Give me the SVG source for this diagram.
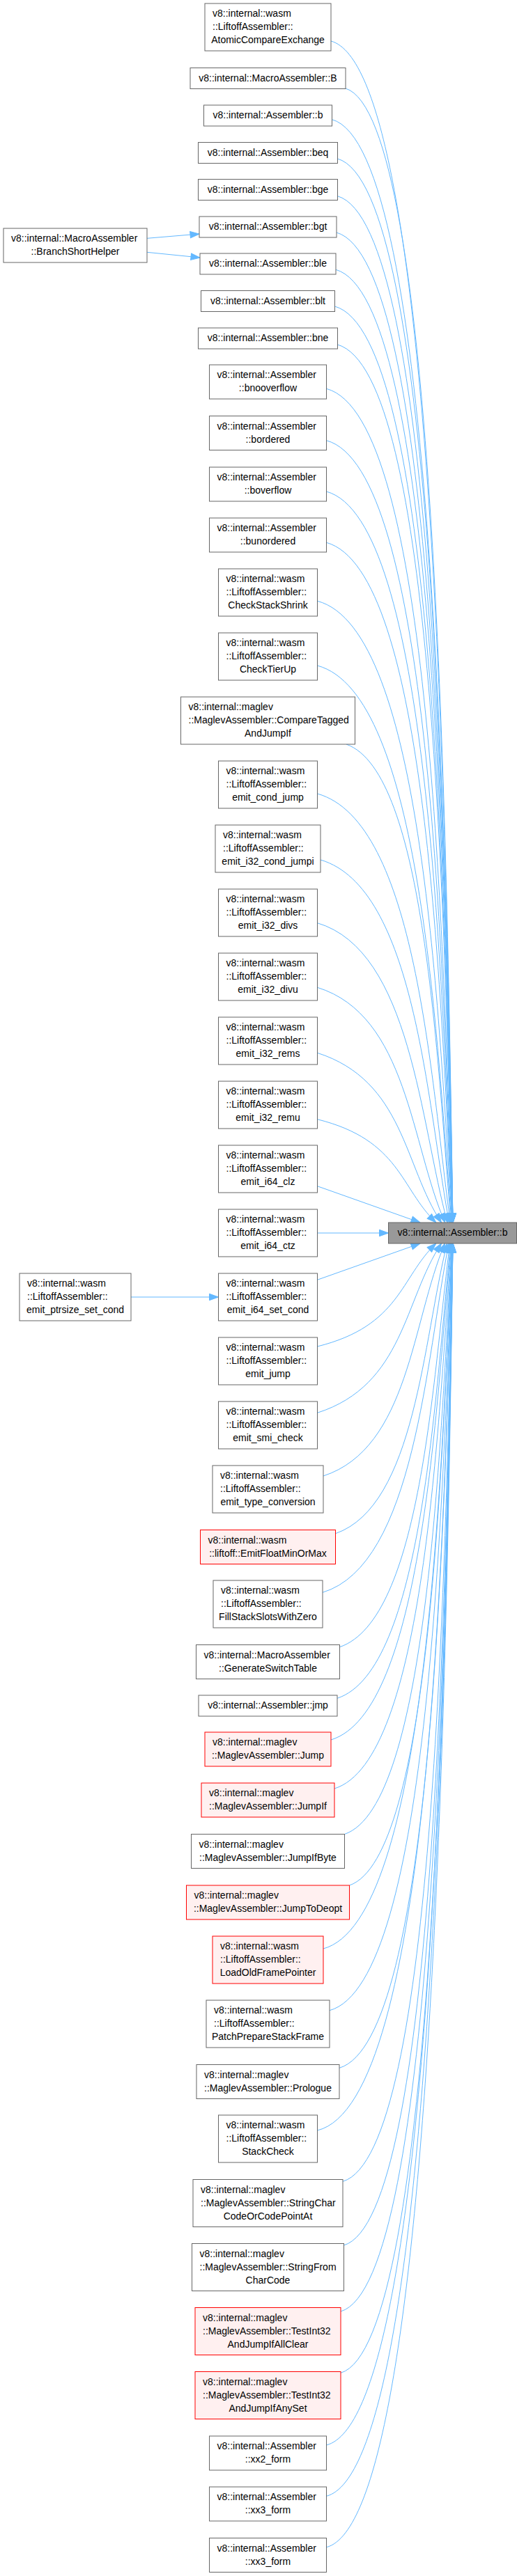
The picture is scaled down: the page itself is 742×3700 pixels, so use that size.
<svg xmlns="http://www.w3.org/2000/svg" width="742" height="3700" viewBox="0 0 742 3700">
<style>
text{font-family:"Liberation Sans",Arial,Helvetica,sans-serif;font-size:14px;fill:#000}
.c{text-anchor:middle}
.n rect{fill:#fff;stroke:#666;stroke-width:1}
.r rect{fill:#fff0f0;stroke:#ff0000;stroke-width:1}
.m rect{fill:#999;stroke:#666;stroke-width:1}
#edges path{fill:none;stroke:#63b8ff;stroke-width:1;marker-end:url(#ah)}
</style>
<defs>
<marker id="ah" markerUnits="userSpaceOnUse" markerWidth="14" markerHeight="11" refX="13" refY="5" orient="auto" overflow="visible">
<path d="M0,0.3 L13,5 L0,9.7 z" fill="#63b8ff" stroke="#63b8ff"/>
</marker>
</defs>
<rect width="742" height="3700" fill="#fff"/>
<g id="edges">
<path d="M475,59 C623.8,99 640.7,1196 650,1756"/>
<path d="M496,127 C626.9,167 641.5,1218.4 650,1756"/>
<path d="M476.5,171.7 C624,211.7 640.2,1233.2 650,1756"/>
<path d="M484.5,228 C625.2,268 640.3,1251.8 650,1756"/>
<path d="M484.5,281.7 C625.2,321.7 639.9,1269.5 650,1756"/>
<path d="M483,334 C624.9,374 639.4,1286.7 650,1756"/>
<path d="M482,387.3 C624.8,427.3 639,1304.3 650,1756"/>
<path d="M480.5,440 C624.4,480 638.2,1321.7 649.8,1756"/>
<path d="M484.5,495 C624,535 637.9,1339.9 649.7,1756"/>
<path d="M468.5,558.3 C619.7,598.3 636,1360.8 649.6,1756"/>
<path d="M468.5,632.7 C617.5,672.7 635,1385.3 649.5,1756"/>
<path d="M468.5,706 C615.4,746 633.8,1409.5 649.3,1756"/>
<path d="M468.5,779.3 C613.3,819.3 632.5,1433.7 649.1,1756"/>
<path d="M455.5,863.3 C607.9,903.3 629.3,1461.4 648.8,1756"/>
<path d="M455.5,956 C604.8,996 626.5,1492 648.2,1756"/>
<path d="M497,1069 C610.9,1109 627.5,1529.6 647.2,1756"/>
<path d="M455.5,1140 C598,1180 618.4,1552.7 646.3,1756"/>
<path d="M460,1235 C595.4,1275 612.8,1584.1 644.6,1756"/>
<path d="M455.5,1325.7 C589.7,1365.7 603.1,1614 642.2,1756"/>
<path d="M455.5,1418.3 C584.7,1458.3 589.8,1644.6 638.7,1756"/>
<path d="M455.5,1512.3 C580,1552.3 580,1675.6 633.5,1756"/>
<path d="M455.5,1607.7 C574.6,1637.4 574.6,1707.1 625.8,1756"/>
<path d="M455.5,1703.7 L603,1756"/>
<path d="M455.5,1771 L557.5,1771"/>
<path d="M455.5,1838.3 L603,1786"/>
<path d="M455.5,1934 C574.6,1904.4 574.6,1834.8 625.8,1786"/>
<path d="M455.5,2029.3 C580,1989.3 580,1866.3 633.5,1786"/>
<path d="M464,2120 C586.9,2080 591.4,1896.2 638.5,1786"/>
<path d="M481.5,2202.7 C596.4,2162.7 607.1,1923.5 641.7,1786"/>
<path d="M463,2287.3 C595.2,2247.3 611.6,1951.4 644.1,1786"/>
<path d="M487.5,2365.7 C604.9,2325.7 621.2,1977.3 645.7,1786"/>
<path d="M484,2439.3 C606.5,2399.3 624.3,2001.6 646.8,1786"/>
<path d="M475,2499 C606.4,2459 625.7,2021.3 647.5,1786"/>
<path d="M480,2569 C609.9,2529 628.8,2044.4 648.1,1786"/>
<path d="M494.5,2634.5 C615,2594 632.2,2065.8 648.5,1786"/>
<path d="M501.5,2708 C618.4,2668 634.5,2090.3 648.9,1786"/>
<path d="M464,2799 C613.4,2759 632.7,2120.3 649.2,1786"/>
<path d="M473,2887.7 C617.7,2847.7 635.1,2149.6 649.5,1786"/>
<path d="M487,2970.3 C622.4,2930.3 637.3,2176.8 649.6,1786"/>
<path d="M455.5,3060 C619.7,3020 636,2206.4 649.7,1786"/>
<path d="M492,3133.3 C626.1,3093.3 639.2,2230.6 649.8,1786"/>
<path d="M493.5,3225 C626.5,3185 640.2,2260.9 649.9,1786"/>
<path d="M489,3320 C625.9,3280 640.5,2292.2 650,1786"/>
<path d="M489,3408.3 C625.9,3368.3 641.1,2321.4 650,1786"/>
<path d="M468.5,3512 C622.8,3472 640.5,2355.6 650,1786"/>
<path d="M468.5,3585.3 C622.8,3545.3 640.9,2379.8 650,1786"/>
<path d="M468.5,3658.7 C622.8,3618.7 641.3,2404 650,1786"/>
<path d="M211,342.3 L286,336"/>
<path d="M211,362.3 L287,370"/>
<path d="M188,1863 L313.5,1863"/>
</g>
<g id="main" class="m"><rect x="557.5" y="1756" width="184" height="30"/><text class="c" x="649.5" y="1775">v8::internal::Assembler::b</text></g>
<g id="n_bsh" class="n"><rect x="5" y="328" width="206" height="49"/><text x="16" y="347">v8::internal::MacroAssembler</text><text class="c" x="108" y="366">::BranchShortHelper</text></g>
<g id="n_ptrsize" class="n"><rect x="28" y="1829" width="160" height="68"/><text x="39" y="1848">v8::internal::wasm</text><text x="39" y="1867">::LiftoffAssembler::</text><text class="c" x="108" y="1886">emit_ptrsize_set_cond</text></g>
<g id="n1" class="n"><rect x="294" y="5" width="181" height="68"/><text x="305" y="24">v8::internal::wasm</text><text x="305" y="43">::LiftoffAssembler::</text><text class="c" x="384.5" y="62">AtomicCompareExchange</text></g>
<g id="n2" class="n"><rect x="273" y="97.5" width="223" height="30"/><text class="c" x="384.5" y="116.5">v8::internal::MacroAssembler::B</text></g>
<g id="n3" class="n"><rect x="292.5" y="151" width="184" height="30"/><text class="c" x="384.5" y="170">v8::internal::Assembler::b</text></g>
<g id="n4" class="n"><rect x="284.5" y="204.5" width="200" height="30"/><text class="c" x="384.5" y="223.5">v8::internal::Assembler::beq</text></g>
<g id="n5" class="n"><rect x="284.5" y="257.5" width="200" height="30"/><text class="c" x="384.5" y="276.5">v8::internal::Assembler::bge</text></g>
<g id="n6" class="n"><rect x="286" y="311" width="197" height="30"/><text class="c" x="384.5" y="330">v8::internal::Assembler::bgt</text></g>
<g id="n7" class="n"><rect x="287" y="364" width="195" height="30"/><text class="c" x="384.5" y="383">v8::internal::Assembler::ble</text></g>
<g id="n8" class="n"><rect x="288.5" y="417.5" width="192" height="30"/><text class="c" x="384.5" y="436.5">v8::internal::Assembler::blt</text></g>
<g id="n9" class="n"><rect x="284.5" y="471" width="200" height="30"/><text class="c" x="384.5" y="490">v8::internal::Assembler::bne</text></g>
<g id="n10" class="n"><rect x="300.5" y="524" width="168" height="49"/><text x="311.5" y="543">v8::internal::Assembler</text><text class="c" x="384.5" y="562">::bnooverflow</text></g>
<g id="n11" class="n"><rect x="300.5" y="597.5" width="168" height="49"/><text x="311.5" y="616.5">v8::internal::Assembler</text><text class="c" x="384.5" y="635.5">::bordered</text></g>
<g id="n12" class="n"><rect x="300.5" y="671" width="168" height="49"/><text x="311.5" y="690">v8::internal::Assembler</text><text class="c" x="384.5" y="709">::boverflow</text></g>
<g id="n13" class="n"><rect x="300.5" y="744" width="168" height="49"/><text x="311.5" y="763">v8::internal::Assembler</text><text class="c" x="384.5" y="782">::bunordered</text></g>
<g id="n14" class="n"><rect x="313.5" y="817" width="142" height="68"/><text x="324.5" y="836">v8::internal::wasm</text><text x="324.5" y="855">::LiftoffAssembler::</text><text class="c" x="384.5" y="874">CheckStackShrink</text></g>
<g id="n15" class="n"><rect x="313.5" y="909" width="142" height="68"/><text x="324.5" y="928">v8::internal::wasm</text><text x="324.5" y="947">::LiftoffAssembler::</text><text class="c" x="384.5" y="966">CheckTierUp</text></g>
<g id="n16" class="n"><rect x="259.5" y="1001" width="250" height="68"/><text x="270.5" y="1020">v8::internal::maglev</text><text x="270.5" y="1039">::MaglevAssembler::CompareTagged</text><text class="c" x="384.5" y="1058">AndJumpIf</text></g>
<g id="n17" class="n"><rect x="313.5" y="1093" width="142" height="68"/><text x="324.5" y="1112">v8::internal::wasm</text><text x="324.5" y="1131">::LiftoffAssembler::</text><text class="c" x="384.5" y="1150">emit_cond_jump</text></g>
<g id="n18" class="n"><rect x="309" y="1185" width="151" height="68"/><text x="320" y="1204">v8::internal::wasm</text><text x="320" y="1223">::LiftoffAssembler::</text><text class="c" x="384.5" y="1242">emit_i32_cond_jumpi</text></g>
<g id="n19" class="n"><rect x="313.5" y="1277" width="142" height="68"/><text x="324.5" y="1296">v8::internal::wasm</text><text x="324.5" y="1315">::LiftoffAssembler::</text><text class="c" x="384.5" y="1334">emit_i32_divs</text></g>
<g id="n20" class="n"><rect x="313.5" y="1369" width="142" height="68"/><text x="324.5" y="1388">v8::internal::wasm</text><text x="324.5" y="1407">::LiftoffAssembler::</text><text class="c" x="384.5" y="1426">emit_i32_divu</text></g>
<g id="n21" class="n"><rect x="313.5" y="1461" width="142" height="68"/><text x="324.5" y="1480">v8::internal::wasm</text><text x="324.5" y="1499">::LiftoffAssembler::</text><text class="c" x="384.5" y="1518">emit_i32_rems</text></g>
<g id="n22" class="n"><rect x="313.5" y="1553" width="142" height="68"/><text x="324.5" y="1572">v8::internal::wasm</text><text x="324.5" y="1591">::LiftoffAssembler::</text><text class="c" x="384.5" y="1610">emit_i32_remu</text></g>
<g id="n23" class="n"><rect x="313.5" y="1645" width="142" height="68"/><text x="324.5" y="1664">v8::internal::wasm</text><text x="324.5" y="1683">::LiftoffAssembler::</text><text class="c" x="384.5" y="1702">emit_i64_clz</text></g>
<g id="n24" class="n"><rect x="313.5" y="1737" width="142" height="68"/><text x="324.5" y="1756">v8::internal::wasm</text><text x="324.5" y="1775">::LiftoffAssembler::</text><text class="c" x="384.5" y="1794">emit_i64_ctz</text></g>
<g id="n25" class="n"><rect x="313.5" y="1829" width="142" height="68"/><text x="324.5" y="1848">v8::internal::wasm</text><text x="324.5" y="1867">::LiftoffAssembler::</text><text class="c" x="384.5" y="1886">emit_i64_set_cond</text></g>
<g id="n26" class="n"><rect x="313.5" y="1921" width="142" height="68"/><text x="324.5" y="1940">v8::internal::wasm</text><text x="324.5" y="1959">::LiftoffAssembler::</text><text class="c" x="384.5" y="1978">emit_jump</text></g>
<g id="n27" class="n"><rect x="313.5" y="2013" width="142" height="68"/><text x="324.5" y="2032">v8::internal::wasm</text><text x="324.5" y="2051">::LiftoffAssembler::</text><text class="c" x="384.5" y="2070">emit_smi_check</text></g>
<g id="n28" class="n"><rect x="305" y="2105" width="159" height="68"/><text x="316" y="2124">v8::internal::wasm</text><text x="316" y="2143">::LiftoffAssembler::</text><text class="c" x="384.5" y="2162">emit_type_conversion</text></g>
<g id="n29" class="r"><rect x="287.5" y="2197.5" width="194" height="49"/><text x="298.5" y="2216.5">v8::internal::wasm</text><text class="c" x="384.5" y="2235.5">::liftoff::EmitFloatMinOrMax</text></g>
<g id="n30" class="n"><rect x="306" y="2270" width="157" height="68"/><text x="317" y="2289">v8::internal::wasm</text><text x="317" y="2308">::LiftoffAssembler::</text><text class="c" x="384.5" y="2327">FillStackSlotsWithZero</text></g>
<g id="n31" class="n"><rect x="281.5" y="2362.5" width="206" height="49"/><text x="292.5" y="2381.5">v8::internal::MacroAssembler</text><text class="c" x="384.5" y="2400.5">::GenerateSwitchTable</text></g>
<g id="n32" class="n"><rect x="285" y="2435" width="199" height="30"/><text class="c" x="384.5" y="2454">v8::internal::Assembler::jmp</text></g>
<g id="n33" class="r"><rect x="294" y="2488" width="181" height="49"/><text x="305" y="2507">v8::internal::maglev</text><text class="c" x="384.5" y="2526">::MaglevAssembler::Jump</text></g>
<g id="n34" class="r"><rect x="289" y="2561" width="191" height="49"/><text x="300" y="2580">v8::internal::maglev</text><text class="c" x="384.5" y="2599">::MaglevAssembler::JumpIf</text></g>
<g id="n35" class="n"><rect x="274.5" y="2634.5" width="220" height="49"/><text x="285.5" y="2653.5">v8::internal::maglev</text><text class="c" x="384.5" y="2672.5">::MaglevAssembler::JumpIfByte</text></g>
<g id="n36" class="r"><rect x="267.5" y="2708" width="234" height="49"/><text x="278.5" y="2727">v8::internal::maglev</text><text class="c" x="384.5" y="2746">::MaglevAssembler::JumpToDeopt</text></g>
<g id="n37" class="r"><rect x="305" y="2781" width="159" height="68"/><text x="316" y="2800">v8::internal::wasm</text><text x="316" y="2819">::LiftoffAssembler::</text><text class="c" x="384.5" y="2838">LoadOldFramePointer</text></g>
<g id="n38" class="n"><rect x="296" y="2873" width="177" height="68"/><text x="307" y="2892">v8::internal::wasm</text><text x="307" y="2911">::LiftoffAssembler::</text><text class="c" x="384.5" y="2930">PatchPrepareStackFrame</text></g>
<g id="n39" class="n"><rect x="282" y="2965.5" width="205" height="49"/><text x="293" y="2984.5">v8::internal::maglev</text><text class="c" x="384.5" y="3003.5">::MaglevAssembler::Prologue</text></g>
<g id="n40" class="n"><rect x="313.5" y="3038" width="142" height="68"/><text x="324.5" y="3057">v8::internal::wasm</text><text x="324.5" y="3076">::LiftoffAssembler::</text><text class="c" x="384.5" y="3095">StackCheck</text></g>
<g id="n41" class="n"><rect x="277" y="3130.5" width="215" height="68"/><text x="288" y="3149.5">v8::internal::maglev</text><text x="288" y="3168.5">::MaglevAssembler::StringChar</text><text class="c" x="384.5" y="3187.5">CodeOrCodePointAt</text></g>
<g id="n42" class="n"><rect x="275.5" y="3222.5" width="218" height="68"/><text x="286.5" y="3241.5">v8::internal::maglev</text><text x="286.5" y="3260.5">::MaglevAssembler::StringFrom</text><text class="c" x="384.5" y="3279.5">CharCode</text></g>
<g id="n43" class="r"><rect x="280" y="3314.5" width="209" height="68"/><text x="291" y="3333.5">v8::internal::maglev</text><text x="291" y="3352.5">::MaglevAssembler::TestInt32</text><text class="c" x="384.5" y="3371.5">AndJumpIfAllClear</text></g>
<g id="n44" class="r"><rect x="280" y="3406.5" width="209" height="68"/><text x="291" y="3425.5">v8::internal::maglev</text><text x="291" y="3444.5">::MaglevAssembler::TestInt32</text><text class="c" x="384.5" y="3463.5">AndJumpIfAnySet</text></g>
<g id="n45" class="n"><rect x="300.5" y="3499" width="168" height="49"/><text x="311.5" y="3518">v8::internal::Assembler</text><text class="c" x="384.5" y="3537">::xx2_form</text></g>
<g id="n46" class="n"><rect x="300.5" y="3572" width="168" height="49"/><text x="311.5" y="3591">v8::internal::Assembler</text><text class="c" x="384.5" y="3610">::xx3_form</text></g>
<g id="n47" class="n"><rect x="300.5" y="3645.5" width="168" height="49"/><text x="311.5" y="3664.5">v8::internal::Assembler</text><text class="c" x="384.5" y="3683.5">::xx3_form</text></g>
</svg>
